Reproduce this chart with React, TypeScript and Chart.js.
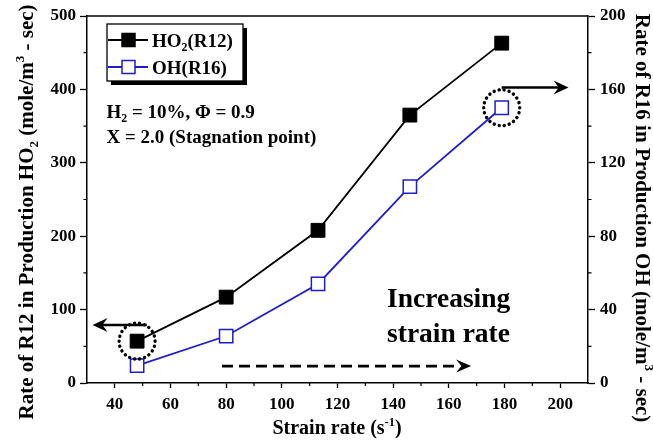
import React, { useEffect, useRef } from "react";
import { Chart, registerables } from "chart.js";
Chart.register(...registerables);

// ---- data ----
const strainRate = [48, 80, 113, 146, 179];
const ho2Rate = [57, 117, 208, 365, 463];
const ohRate = [9.5, 25.6, 54, 107, 150];
const xTickValues = [40, 60, 80, 100, 120, 140, 160, 180, 200];
const xMinorValues = [50, 70, 90, 110, 130, 150, 170, 190];
const leftTickValues = [0, 100, 200, 300, 400, 500];
const leftMinorValues = [50, 150, 250, 350, 450];
const rightTickValues = [0, 40, 80, 120, 160, 200];
const rightMinorValues = [20, 60, 100, 140, 180];
const seriesNames = ["HO2(R12)", "OH(R16)"];

const FONT = '"Liberation Serif", "Times New Roman", serif';
const BLUE = "#1e1ecc";

type Seg = { t: string; k?: "sub" | "sup" };

function drawRich(
  ctx: CanvasRenderingContext2D,
  segs: Seg[],
  x: number,
  y: number,
  size: number,
  align: "left" | "center",
  rotation = 0
) {
  ctx.save();
  ctx.translate(x, y);
  ctx.rotate(rotation);
  ctx.textBaseline = "alphabetic";
  ctx.textAlign = "left";
  ctx.fillStyle = "#000";
  const small = size * 0.62;
  let total = 0;
  const widths = segs.map((s) => {
    ctx.font = `bold ${s.k ? small : size}px ${FONT}`;
    const w = ctx.measureText(s.t).width;
    total += w;
    return w;
  });
  let cx = align === "center" ? -total / 2 : 0;
  segs.forEach((s, i) => {
    ctx.font = `bold ${s.k ? small : size}px ${FONT}`;
    const dy = s.k === "sub" ? size * 0.22 : s.k === "sup" ? -size * 0.42 : 0;
    ctx.fillText(s.t, cx, dy);
    cx += widths[i];
  });
  ctx.restore();
}

function arrowHead(ctx: CanvasRenderingContext2D, x: number, y: number, dir: number, len = 15, half = 6.5) {
  ctx.save();
  ctx.beginPath();
  ctx.moveTo(x, y);
  ctx.lineTo(x - dir * len, y - half);
  ctx.lineTo(x - dir * len * 0.65, y);
  ctx.lineTo(x - dir * len, y + half);
  ctx.closePath();
  ctx.fill();
  ctx.restore();
}

function dottedCircle(ctx: CanvasRenderingContext2D, x: number, y: number, r: number) {
  ctx.save();
  ctx.beginPath();
  ctx.setLineDash([0.1, 5]);
  ctx.lineCap = "round";
  ctx.lineWidth = 3.4;
  ctx.strokeStyle = "#000";
  ctx.arc(x, y, r, 0, Math.PI * 2);
  ctx.stroke();
  ctx.restore();
}

const decorPlugin = {
  id: "decor",
  afterDraw(chart: any) {
    const ctx: CanvasRenderingContext2D = chart.ctx;
    const xs = chart.scales.x;
    const yl = chart.scales.y;
    const yr = chart.scales.y1;
    const area = chart.chartArea;

    ctx.save();
    // top frame line
    ctx.strokeStyle = "#000";
    ctx.lineWidth = 1.5;
    ctx.beginPath();
    ctx.moveTo(area.left, area.top);
    ctx.lineTo(area.right, area.top);
    ctx.stroke();

    // minor ticks
    ctx.lineWidth = 1.2;
    ctx.beginPath();
    xMinorValues.forEach((v) => {
      const p = xs.getPixelForValue(v);
      ctx.moveTo(p, area.bottom);
      ctx.lineTo(p, area.bottom + 3);
    });
    leftMinorValues.forEach((v) => {
      const p = yl.getPixelForValue(v);
      ctx.moveTo(area.left, p);
      ctx.lineTo(area.left - 3.5, p);
    });
    rightMinorValues.forEach((v) => {
      const p = yr.getPixelForValue(v);
      ctx.moveTo(area.right, p);
      ctx.lineTo(area.right + 3.5, p);
    });
    ctx.stroke();

    ctx.fillStyle = "#000";
    ctx.strokeStyle = "#000";

    // dotted circles around first/last points
    dottedCircle(ctx, xs.getPixelForValue(strainRate[0]), yl.getPixelForValue(ho2Rate[0]), 18);
    dottedCircle(ctx, xs.getPixelForValue(strainRate[4]), yr.getPixelForValue(ohRate[4]), 18);

    // left arrow (HO2 -> left axis)
    ctx.lineWidth = 2.6;
    {
      const y = yl.getPixelForValue(79);
      const x1 = xs.getPixelForValue(51.5);
      const x2 = xs.getPixelForValue(32);
      ctx.beginPath();
      ctx.moveTo(x1, y);
      ctx.lineTo(x2 + 8, y);
      ctx.stroke();
      arrowHead(ctx, x2, y, -1, 15, 7);
    }
    // right arrow (OH -> right axis)
    {
      const y = yr.getPixelForValue(161);
      const x1 = xs.getPixelForValue(179);
      const x2 = xs.getPixelForValue(203);
      ctx.beginPath();
      ctx.moveTo(x1, y);
      ctx.lineTo(x2 - 8, y);
      ctx.stroke();
      arrowHead(ctx, x2, y, 1, 15, 7);
    }
    // dashed arrow
    {
      const y = yl.getPixelForValue(23);
      const x1 = xs.getPixelForValue(78.5);
      const x2 = xs.getPixelForValue(168);
      ctx.save();
      ctx.setLineDash([11, 6]);
      ctx.lineWidth = 2.6;
      ctx.beginPath();
      ctx.moveTo(x1, y);
      ctx.lineTo(x2 - 12, y);
      ctx.stroke();
      ctx.restore();
      arrowHead(ctx, x2, y, 1, 15, 6.5);
    }

    // annotation texts
    drawRich(
      ctx,
      [{ t: "H" }, { t: "2", k: "sub" }, { t: " = 10%, \u03A6 = 0.9" }],
      xs.getPixelForValue(37),
      yl.getPixelForValue(361),
      19,
      "left"
    );
    drawRich(ctx, [{ t: "X = 2.0 (Stagnation point)" }], xs.getPixelForValue(37), yl.getPixelForValue(327), 19, "left");
    drawRich(ctx, [{ t: "Increasing" }], xs.getPixelForValue(137.8), yl.getPixelForValue(104), 27.5, "left");
    drawRich(ctx, [{ t: "strain rate" }], xs.getPixelForValue(137.8), yl.getPixelForValue(56), 27.5, "left");

    // legend
    {
      const bx = 107, by = 24, bw = 136, bh = 57;
      ctx.fillStyle = "#000";
      ctx.fillRect(bx + 4, by + 4, bw, bh);
      ctx.fillStyle = "#fff";
      ctx.fillRect(bx, by, bw, bh);
      ctx.lineWidth = 1.3;
      ctx.strokeStyle = "#000";
      ctx.strokeRect(bx, by, bw, bh);
      const rows = [
        { y: by + 16, color: "#000", fill: "#000", segs: [{ t: "HO" }, { t: "2", k: "sub" }, { t: "(R12)" }] as Seg[] },
        { y: by + 43, color: BLUE, fill: "#fff", segs: [{ t: "OH(R16)" }] as Seg[] },
      ];
      rows.forEach((r) => {
        ctx.strokeStyle = r.color;
        ctx.lineWidth = 1.8;
        ctx.beginPath();
        ctx.moveTo(bx + 1, r.y);
        ctx.lineTo(bx + 41, r.y);
        ctx.stroke();
        ctx.fillStyle = r.fill;
        ctx.fillRect(bx + 15, r.y - 6.5, 13, 13);
        ctx.lineWidth = 1.5;
        ctx.strokeRect(bx + 15, r.y - 6.5, 13, 13);
        drawRich(ctx, r.segs, bx + 45, r.y + 6.5, 19, "left");
      });
    }

    // axis titles
    drawRich(
      ctx,
      [
        { t: "Rate of R12 in Production HO" },
        { t: "2", k: "sub" },
        { t: " (mole/m" },
        { t: "3", k: "sup" },
        { t: " - sec)" },
      ],
      33,
      212,
      21,
      "center",
      -Math.PI / 2
    );
    drawRich(
      ctx,
      [
        { t: "Rate of R16 in Production OH (mole/m" },
        { t: "3", k: "sup" },
        { t: " - sec)" },
      ],
      636,
      218,
      21,
      "center",
      Math.PI / 2
    );
    drawRich(
      ctx,
      [{ t: "Strain rate (s" }, { t: "-1", k: "sup" }, { t: ")" }],
      337,
      434,
      20,
      "center"
    );
    ctx.restore();
  },
};

function App() {
  const ref = useRef<HTMLCanvasElement>(null);
  useEffect(() => {
    if (!ref.current) return;
    const tickFont = { family: FONT, size: 17, weight: "bold" as const };
    const axisCommon = {
      grid: {
        display: true,
        drawOnChartArea: false,
        drawTicks: true,
        tickLength: 7,
        tickColor: "#000",
        tickWidth: 1.3,
      },
      border: { display: true, color: "#000", width: 1.5 },
    };
    const chart = new Chart(ref.current, {
      type: "line",
      data: {
        datasets: [
          {
            label: seriesNames[0],
            data: strainRate.map((x, i) => ({ x, y: ho2Rate[i] })),
            borderColor: "#000",
            backgroundColor: "#000",
            borderWidth: 1.8,
            pointStyle: "rect",
            pointRadius: 9.8,
            pointBorderWidth: 1,
            pointBackgroundColor: "#000",
            pointBorderColor: "#000",
            yAxisID: "y",
          },
          {
            label: seriesNames[1],
            data: strainRate.map((x, i) => ({ x, y: ohRate[i] })),
            borderColor: BLUE,
            backgroundColor: "#fff",
            borderWidth: 1.8,
            pointStyle: "rect",
            pointRadius: 9.4,
            pointBorderWidth: 1.5,
            pointBackgroundColor: "#fff",
            pointBorderColor: BLUE,
            yAxisID: "y1",
          },
        ],
      },
      options: {
        responsive: false,
        animation: false,
        layout: { padding: { top: 16, left: 0, right: 0, bottom: 0 }, autoPadding: false } as any,
        plugins: { legend: { display: false }, tooltip: { enabled: false } },
        scales: {
          x: {
            type: "linear",
            min: 30,
            max: 210,
            ...axisCommon,
            grid: { ...axisCommon.grid, tickLength: 5 },
            afterBuildTicks: (s: any) => {
              s.ticks = xTickValues.map((v) => ({ value: v }));
            },
            afterFit: (s: any) => {
              s.height = 57;
            },
            ticks: { color: "#000", font: tickFont, padding: 6, maxRotation: 0, autoSkip: false },
            title: { display: false },
          },
          y: {
            type: "linear",
            position: "left",
            min: 0,
            max: 500,
            ...axisCommon,
            afterBuildTicks: (s: any) => {
              s.ticks = leftTickValues.map((v) => ({ value: v }));
            },
            afterFit: (s: any) => {
              s.width = 87;
            },
            ticks: { color: "#000", font: tickFont, padding: 4, autoSkip: false },
          },
          y1: {
            type: "linear",
            position: "right",
            min: 0,
            max: 200,
            ...axisCommon,
            afterBuildTicks: (s: any) => {
              s.ticks = rightTickValues.map((v) => ({ value: v }));
            },
            afterFit: (s: any) => {
              s.width = 65;
            },
            ticks: { color: "#000", font: tickFont, padding: 5, autoSkip: false },
          },
        },
      } as any,
      plugins: [decorPlugin],
    });
    return () => chart.destroy();
  }, []);
  return (
    <div style={{ position: "fixed", left: 0, top: 0, width: 653, height: 440, background: "#fff" }}>
      <canvas ref={ref} width={653} height={440} style={{ width: 653, height: 440, display: "block" }} />
    </div>
  );
}

export default App;
